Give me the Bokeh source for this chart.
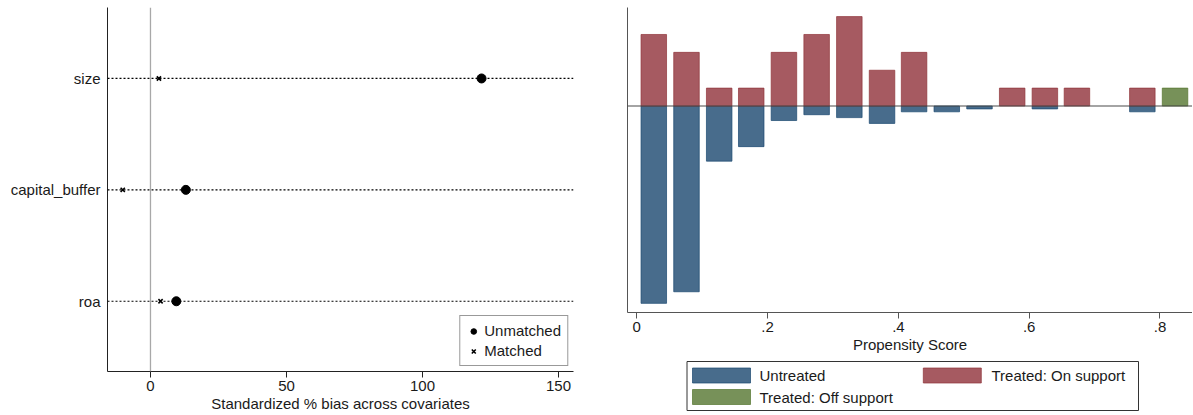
from bokeh.plotting import figure
from bokeh.layouts import row, column
from bokeh.models import (Range1d, Span, Legend, LegendItem, FixedTicker,
                          CustomJSTickFormatter, ColumnDataSource)
from bokeh.core.properties import value
from bokeh.embed import file_html
from bokeh.resources import INLINE

# ---------------- data ----------------
covariates = ["roa", "capital_buffer", "size"]          # bottom -> top
bias_unmatched = [9.5, 13.0, 121.7]
bias_matched = [3.7, -10.2, 3.1]
bias_ticks = [0, 50, 100, 150]

ps_bin_center = [0.026, 0.076, 0.126, 0.175, 0.225, 0.275, 0.325, 0.375, 0.424,
                 0.474, 0.524, 0.574, 0.624, 0.673, 0.723, 0.773, 0.823]
untreated_count = [68, 64, 19, 14, 5, 3, 4, 6, 2, 2, 1, 0, 1, 0, 0, 2, 0]
treated_on_count = [4, 3, 1, 1, 3, 4, 5, 2, 3, 0, 0, 1, 1, 1, 0, 1, 0]
treated_off_count = [0, 0, 0, 0, 0, 0, 0, 0, 0, 0, 0, 0, 0, 0, 0, 0, 1]
ps_ticks = [0, 0.2, 0.4, 0.6, 0.8]
group_labels = ["Untreated", "Treated: On support", "Treated: Off support"]

FONT = "Liberation Sans"
TXT = "#1a1a1a"
FILL = ["#486c8c", "#a65a61", "#779159"]
EDGE = ["#1a476f", "#90353b", "#55752f"]

def style_axis(ax, line_color):
    ax.minor_tick_line_color = None
    ax.axis_line_color = line_color
    ax.major_label_text_font = FONT
    ax.major_label_text_font_size = "15px"
    ax.major_label_text_color = TXT
    ax.axis_label_text_font = FONT
    ax.axis_label_text_font_size = "15px"
    ax.axis_label_text_font_style = "normal"
    ax.axis_label_text_color = TXT

# ---------------- left panel ----------------
p1 = figure(width=600, height=414, x_range=Range1d(-15.8, 155.5),
            y_range=Range1d(0.3695, 3.637), output_backend="svg",
            toolbar_location=None, min_border_left=107, min_border_right=27,
            min_border_top=7, min_border_bottom=43)
p1.outline_line_color = None
p1.xgrid.visible = False
p1.ygrid.visible = False

ypos = list(range(1, len(covariates) + 1))
for y in ypos:
    p1.add_layout(Span(location=y, dimension="width", line_color="#000000",
                       line_width=1.2, line_dash="2 2"))
p1.add_layout(Span(location=0, dimension="height", line_color="#a8a8a8",
                   line_width=1.3))

src1 = ColumnDataSource(dict(y=ypos, un=bias_unmatched, m=bias_matched))
r_un = p1.scatter("un", "y", source=src1, marker="circle", size=9,
                  fill_color="black", line_color="black")
r_m = p1.scatter("m", "y", source=src1, marker="x", size=6,
                 line_color="black", line_width=1.6)

style_axis(p1.xaxis[0], "#222222")
style_axis(p1.yaxis[0], "#222222")
p1.xaxis.ticker = FixedTicker(ticks=bias_ticks)
p1.xaxis.axis_label = "Standardized % bias across covariates"
p1.xaxis.major_tick_line_color = "#222222"
p1.xaxis.major_tick_out = 6
p1.xaxis.major_tick_in = 0
p1.xaxis.major_label_standoff = 3
p1.xaxis.axis_label_standoff = 1
p1.yaxis.ticker = FixedTicker(ticks=ypos)
p1.yaxis.major_label_overrides = {y: c for y, c in zip(ypos, covariates)}
p1.yaxis.major_tick_line_color = None
p1.yaxis.major_tick_in = 0
p1.yaxis.major_tick_out = 0
p1.yaxis.major_label_standoff = 7

leg1 = Legend(items=[LegendItem(label="Unmatched", renderers=[r_un]),
                     LegendItem(label="Matched", renderers=[r_m])],
              location="bottom_right", margin=5, padding=6, glyph_width=14,
              glyph_height=14, label_standoff=4, spacing=3,
              label_text_font=FONT, label_text_font_size="15px",
              label_text_color=TXT, border_line_color="#333333",
              border_line_width=1)
p1.add_layout(leg1)

# ---------------- right panel ----------------
n_un = sum(untreated_count)
n_tr = sum(treated_on_count) + sum(treated_off_count)

def keep(vals, total, sign):
    xs, tops = [], []
    for x, v in zip(ps_bin_center, vals):
        if v > 0:
            xs.append(x)
            tops.append(sign * v / total)
    return xs, tops

xu, yu = keep(untreated_count, n_un, -1)
xo, yo = keep(treated_on_count, n_tr, 1)
xf, yf = keep(treated_off_count, n_tr, 1)

p2 = figure(width=592, height=360, x_range=Range1d(-0.0142, 0.8497),
            y_range=Range1d(-0.3725, 0.1777), output_backend="svg",
            toolbar_location=None, min_border_left=27, min_border_right=0,
            min_border_top=7, min_border_bottom=48)
p2.outline_line_color = None
p2.xgrid.visible = False
p2.ygrid.visible = False

BW = 0.039
p2.vbar(x=xu, bottom=yu, top=0, width=BW, fill_color=FILL[0],
        line_color=EDGE[0], line_alpha=0.7, line_width=1)
p2.vbar(x=xo, bottom=0, top=yo, width=BW, fill_color=FILL[1],
        line_color=EDGE[1], line_alpha=0.7, line_width=1)
p2.vbar(x=xf, bottom=0, top=yf, width=BW, fill_color=FILL[2],
        line_color=EDGE[2], line_alpha=0.7, line_width=1)
p2.add_layout(Span(location=0, dimension="width", line_color="#4a4a4a",
                   line_width=1.2))

style_axis(p2.xaxis[0], "#555555")
style_axis(p2.yaxis[0], "#555555")
p2.xaxis.ticker = FixedTicker(ticks=ps_ticks)
p2.xaxis.formatter = CustomJSTickFormatter(
    code="if (tick == 0) { return '0'; } return tick.toFixed(1).replace(/^0/, '');")
p2.xaxis.axis_label = "Propensity Score"
p2.xaxis.major_tick_line_color = "#555555"
p2.xaxis.major_tick_out = 6
p2.xaxis.major_tick_in = 0
p2.xaxis.major_label_standoff = 3
p2.xaxis.axis_label_standoff = 1
p2.yaxis.ticker = FixedTicker(ticks=[0])
p2.yaxis.major_label_overrides = {0: " "}
p2.yaxis.major_tick_line_color = None
p2.yaxis.major_tick_in = 0
p2.yaxis.major_tick_out = 0
p2.yaxis.major_label_standoff = 0

# legend for the right panel, drawn in its own small canvas; its frame lines
# up with the histogram frame, so x is in page pixels (627..1192)
lg = figure(width=592, height=54, x_range=Range1d(627, 1192), y_range=Range1d(0, 54),
            output_backend="svg", toolbar_location=None, min_border_left=27,
            min_border_right=0, min_border_top=0, min_border_bottom=0)
lg.axis.visible = False
lg.xgrid.visible = False
lg.ygrid.visible = False
lg.outline_line_color = None
lg.quad(left=[686.5], right=[1138], bottom=[4], top=[53], fill_color=None,
        line_color="#333333", line_width=1)
sw_x = [721, 951.8, 721]          # swatch centres
sw_y = [39, 39, 17.5]
lg.rect(x=sw_x, y=sw_y, width=58, height=15, fill_color=FILL,
        line_color=EDGE, line_alpha=0.7)
lg.text(x=[759, 991, 759], y=sw_y, text=group_labels, text_font=value(FONT),
        text_font_size="15px", text_color=TXT, text_baseline="middle",
        text_align="left")

layout = row(p1, column(p2, lg))
open("out.html", "w").write(file_html(layout, INLINE))
